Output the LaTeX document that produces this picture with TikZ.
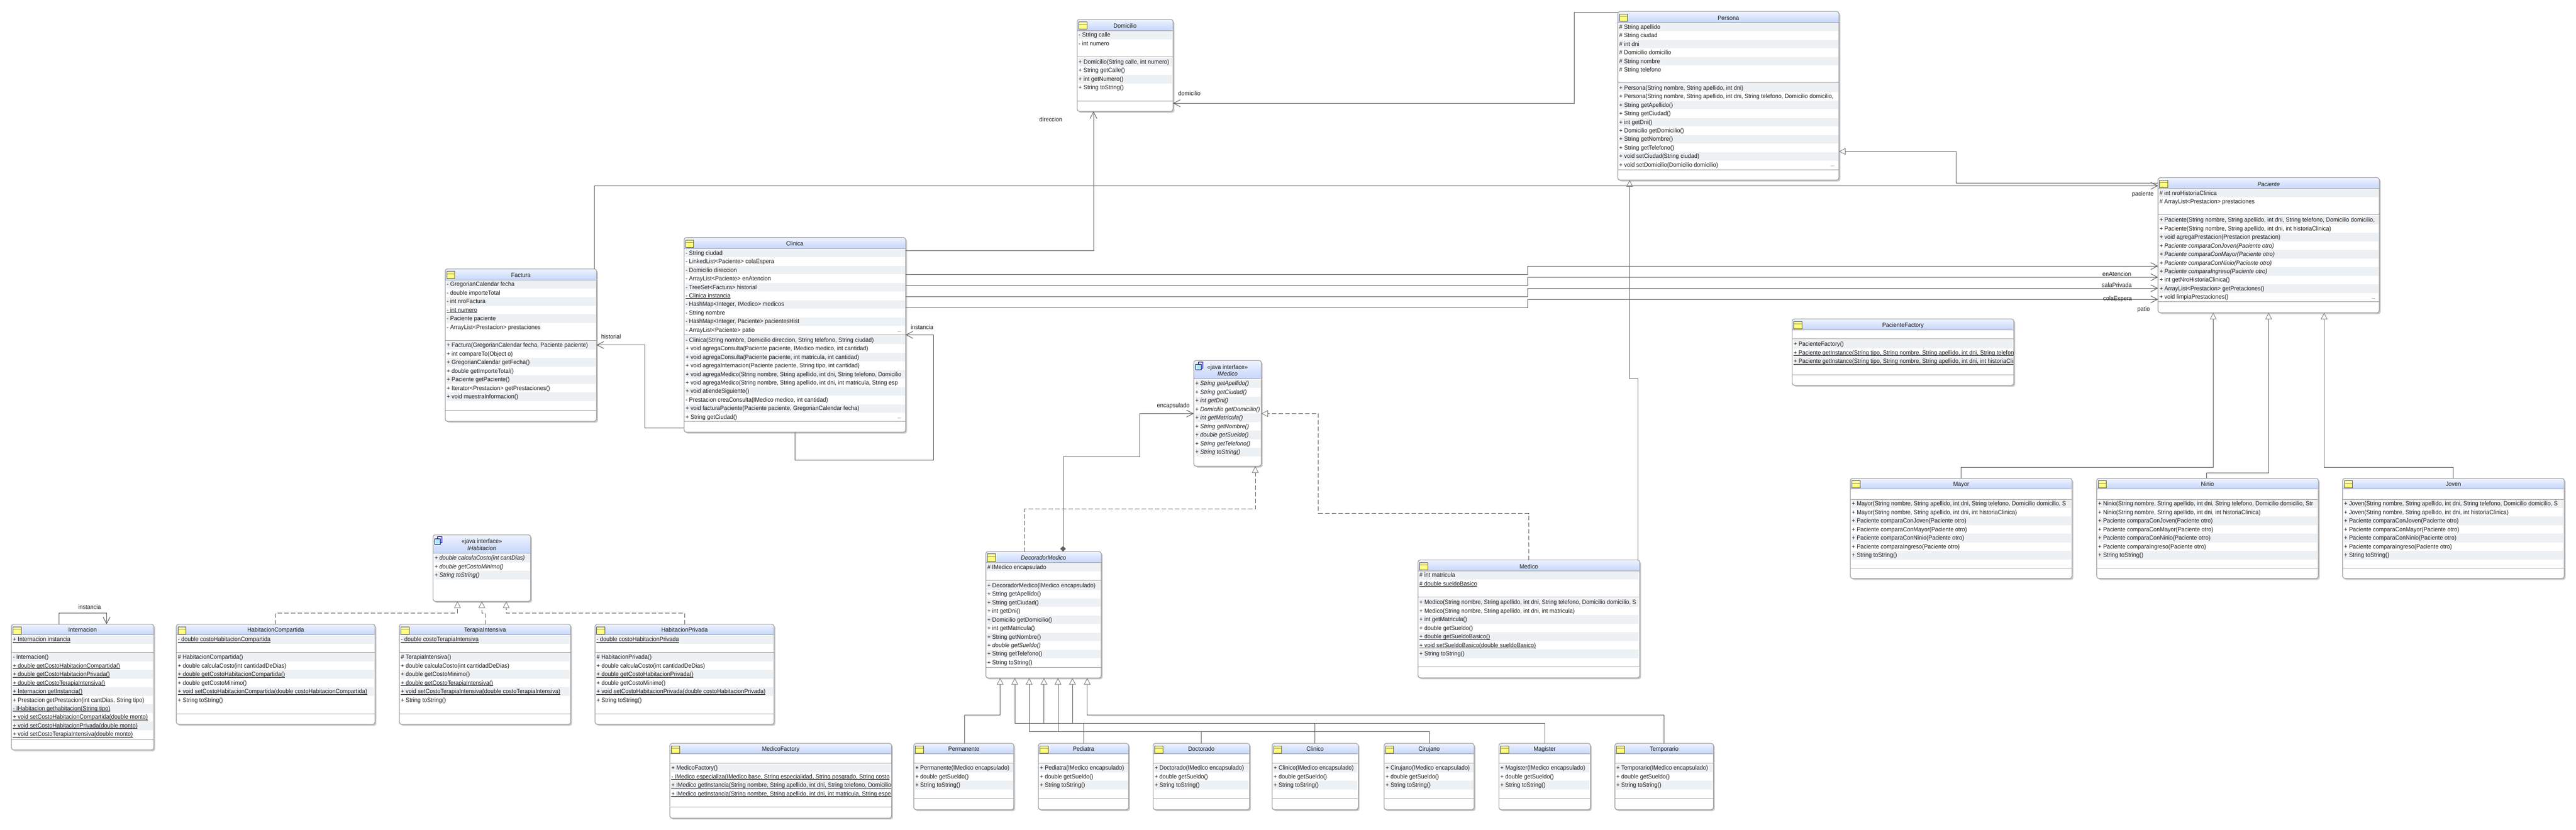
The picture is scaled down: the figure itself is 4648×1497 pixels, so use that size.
\documentclass[tikz,border=0pt]{standalone}
\usepackage{fontspec}
\setmainfont{Liberation Sans}[FakeStretch=0.94]
\usetikzlibrary{arrows.meta,shadows}
\definecolor{hdrtop}{HTML}{EEF3FF}
\definecolor{hdrbot}{HTML}{C6D6FA}
\definecolor{bandc}{HTML}{EEF1F4}
\definecolor{edgec}{HTML}{A0A0A0}
\definecolor{linec}{HTML}{606060}
\definecolor{tipc}{HTML}{808080}
\definecolor{textc}{HTML}{1A1A1A}
\newsavebox\ulbox
\newcommand\ulx[1]{\sbox\ulbox{#1}\usebox\ulbox\llap{\rule[-1.8pt]{\wd\ulbox}{0.9pt}}}
\tikzset{
  classbox/.style={draw=edgec,line width=1pt,fill=white,rounded corners=4pt,inner sep=0pt,outer sep=0pt,
    drop shadow={shadow xshift=2.5pt,shadow yshift=-2.5pt,opacity=.35,fill=black!60}},
  edgeline/.style={draw=edgec,line width=1pt},
  rowtext/.style={anchor=west,inner sep=0pt,text height=8.5pt,text depth=1.5pt,text=textc,font=\fontsize{11}{13}\selectfont},
  titletext/.style={anchor=center,inner sep=0pt,text height=8.5pt,text depth=1.5pt,text=textc,font=\fontsize{11}{13}\selectfont},
  lbl/.style={anchor=center,inner sep=0pt,text height=8.5pt,text depth=1.5pt,text=textc,font=\fontsize{11}{13}\selectfont},
  dots/.style={anchor=center,inner sep=0pt,text=textc,font=\fontsize{8}{9}\selectfont},
  conn/.style={draw=linec,line width=1pt},
  assoc/.style={conn,-{Straight Barb[length=12pt,width=12.5pt,line width=1pt]}},
  gen/.style={conn,-{Triangle[open,length=12pt,width=12pt,line width=.9pt,color=tipc]}},
  real/.style={conn,dash pattern=on 8pt off 4pt,-{Triangle[open,length=12pt,width=12pt,line width=.9pt,color=tipc]}},
  comp/.style={conn,{Diamond[length=10pt,width=10pt,color=linec]}-{Straight Barb[length=12pt,width=12.5pt,line width=1pt]}},
}
\newcommand\umlframe[6]{%
  \def\cname{#1}\def\xa{#2}\def\xb{#3}\def\yt{#4}\def\yh{#5}\def\yb{#6}%
  \pgfmathsetmacro\bw{#3-#2}\pgfmathsetmacro\bh{#6-#4}%
  \pgfmathsetmacro\bcx{(#2+#3)/2}\pgfmathsetmacro\bcy{(#4+#6)/2}%
  \node[classbox,minimum width=\bw pt,minimum height=\bh pt] (#1) at (\bcx,\bcy) {};%
  \shade[top color=hdrtop,bottom color=hdrbot]
    (#2,#5) [rounded corners=4pt] -- (#2,#4) -- (#3,#4) -- (#3,#5) [sharp corners] -- cycle;%
}
\newcommand\classicon{%
  \fill[top color=yellow!35!white,bottom color=yellow!60!white,draw=black!70!yellow,line width=.9pt]
    (\xa+3,\yt+4.3) rectangle (\xa+17.5,\yt+17.5);%
  \draw[color=black!45!yellow,line width=.7pt] (\xa+3.5,\yt+9) -- (\xa+17,\yt+9);%
}
\newcommand\ifaceicon{%
  \fill[fill=blue!10!white,draw=blue!60!black,line width=.8pt] (\xa+8,\yt+3) rectangle (\xa+16,\yt+14);%
  \fill[fill=blue!30!cyan!30!white,draw=blue!60!black,line width=.8pt] (\xa+3,\yt+7) rectangle (\xa+13,\yt+17);%
}
% name x0 x1 top hdr bot title
\newcommand\umlclass[7]{%
  \umlframe{#1}{#2}{#3}{#4}{#5}{#6}\classicon
  \pgfmathsetmacro\tcx{(#2+#3)/2}\pgfmathsetmacro\tcy{#5-8}%
  \node[titletext] (#1-title) at (\tcx,\tcy) {#7};%
}
% name x0 x1 top hdr bot title
\newcommand\umliface[7]{%
  \umlframe{#1}{#2}{#3}{#4}{#5}{#6}\ifaceicon
  \pgfmathsetmacro\tcx{(#2+#3)/2}\pgfmathsetmacro\tcya{#4+12}\pgfmathsetmacro\tcyb{#4+24.7}%
  \node[titletext] (#1-stereo) at (\tcx,\tcya) {«java interface»};%
  \node[titletext] (#1-title) at (\tcx,\tcyb) {\itshape #7};%
}
% prefix firstY pitch list
\newcommand\rows[4]{%
  \begin{scope}
    \clip (\xa+1,\yh) rectangle (\xb-.5,\yb);
    \foreach \rowtxt [count=\ii from 0] in {#4} {
      \pgfmathsetmacro\ry{#2+\ii*#3}
      \pgfmathtruncatemacro\md{mod(\ii,2)}
      \ifnum\md=0 \fill[bandc] (\xa+2.5,\ry-7.75) rectangle (\xb-1.3,\ry+7.75); \fi
      \node[rowtext] (\cname-#1\ii) at (\xa+2.5,\ry) {\rowtxt};
    }
  \end{scope}%
}
% D1 D2
\newcommand\closebox[2]{%
  \draw[edgeline] (\xa,#1) -- (\xb,#1);
  \draw[edgeline] (\xa,#2) -- (\xb,#2);
  \draw[edgeline] (\xa,\yh) -- (\xb,\yh);
  \draw[edgeline,rounded corners=4pt] (\xa,\yt) rectangle (\xb,\yb);%
}
\newcommand\closeiface{%
  \draw[edgeline] (\xa,\yh) -- (\xb,\yh);
  \draw[edgeline,rounded corners=4pt] (\xa,\yt) rectangle (\xb,\yb);%
}
\newcommand\decorator[4]{% name x0 x1 title
  \umlclass{#1}{#2}{#3}{1341.7}{1360.3}{1461.3}{#4}
  \rows{o}{1386.3}{15.45}{{+ #4(IMedico encapsulado)},{+ double getSueldo()},{+ String toString()}}
  \closebox{1377.3}{1441}
}
\newcommand\pacsub[5]{% name x0 x1 title clipped
  \umlclass{#1}{#2}{#3}{863.3}{882.3}{1044}{#4}
  \rows{o}{909.3}{15.45}{{+ #4(String nombre, String apellido, int dni, String telefono, Domicilio domicilio, #5},{+ #4(String nombre, String apellido, int dni, int historiaClinica)},{+ Paciente comparaConJoven(Paciente otro)},{+ Paciente comparaConMayor(Paciente otro)},{+ Paciente comparaConNinio(Paciente otro)},{+ Paciente comparaIngreso(Paciente otro)},{+ String toString()}}
  \closebox{901.3}{1025.3}
}
\begin{document}
\begin{tikzpicture}[x=1pt,y=-1pt]
\fill[white] (0,0) rectangle (4648,1497);
\useasboundingbox (0,0) rectangle (4648,1497);

% ---------- classes ----------
\umlclass{domicilio}{1943.5}{2116.5}{35}{55}{201}{Domicilio}
\rows{a}{63.3}{15.45}{{- String calle},{- int numero}}
\rows{o}{112}{15.45}{{+ Domicilio(String calle, int numero)},{+ String getCalle()},{+ int getNumero()},{+ String toString()}}
\closebox{102}{182}

\umlclass{persona}{2919}{3318}{20.7}{40.7}{325}{Persona}
\rows{a}{48.7}{15.45}{{\# String apellido},{\# String ciudad},{\# int dni},{\# Domicilio domicilio},{\# String nombre},{\# String telefono}}
\rows{o}{158.7}{15.45}{{+ Persona(String nombre, String apellido, int dni)},{+ Persona(String nombre, String apellido, int dni, String telefono, Domicilio domicilio,},{+ String getApellido()},{+ String getCiudad()},{+ int getDni()},{+ Domicilio getDomicilio()},{+ String getNombre()},{+ String getTelefono()},{+ void setCiudad(String ciudad)},{+ void setDomicilio(Domicilio domicilio)}}
\node[dots] (persona-more) at (3307,300) {...};
\closebox{149.3}{306.3}

\umlclass{clinica}{1234.4}{1634}{428.7}{448.3}{780}{Clinica}
\rows{a}{456.7}{15.45}{{- String ciudad},{- LinkedList<Paciente> colaEspera},{- Domicilio direccion},{- ArrayList<Paciente> enAtencion},{- TreeSet<Factura> historial},{\ulx{- Clinica instancia}},{- HashMap<Integer, IMedico> medicos},{- String nombre},{- HashMap<Integer, Paciente> pacientesHist},{- ArrayList<Paciente> patio}}
\rows{o}{613.7}{15.45}{{- Clinica(String nombre, Domicilio direccion, String telefono, String ciudad)},{+ void agregaConsulta(Paciente paciente, IMedico medico, int cantidad)},{+ void agregaConsulta(Paciente paciente, int matricula, int cantidad)},{+ void agregaInternacion(Paciente paciente, String tipo, int cantidad)},{+ void agregaMedico(String nombre, String apellido, int dni, String telefono, Domicilio},{+ void agregaMedico(String nombre, String apellido, int dni, int matricula, String esp},{+ void atiendeSiguiente()},{- Prestacion creaConsulta(IMedico medico, int cantidad)},{+ void facturaPaciente(Paciente paciente, GregorianCalendar fecha)},{+ String getCiudad()}}
\node[dots] (clinica-more1) at (1623,599) {...};
\node[dots] (clinica-more2) at (1623,755) {...};
\closebox{604.3}{760.3}

\umlclass{factura}{803.3}{1076.3}{485.3}{505.3}{760.3}{Factura}
\rows{a}{513.3}{15.45}{{- GregorianCalendar fecha},{- double importeTotal},{- int nroFactura},{\ulx{- int numero}},{- Paciente paciente},{- ArrayList<Prestacion> prestaciones}}
\rows{o}{623.3}{15.45}{{+ Factura(GregorianCalendar fecha, Paciente paciente)},{+ int compareTo(Object o)},{+ GregorianCalendar getFecha()},{+ double getImporteTotal()},{+ Paciente getPaciente()},{+ Iterator<Prestacion> getPrestaciones()},{+ void muestraInformacion()}}
\closebox{614.3}{740.3}

\umliface{imedico}{2154}{2275.8}{650.5}{683.2}{841.3}{IMedico}
\rows{o}{692.4}{15.45}{{\itshape + String getApellido()},{\itshape + String getCiudad()},{\itshape + int getDni()},{\itshape + Domicilio getDomicilio()},{\itshape + int getMatricula()},{\itshape + String getNombre()},{\itshape + double getSueldo()},{\itshape + String getTelefono()},{\itshape + String toString()}}
\closeiface

\umlclass{decorador}{1778.8}{1987}{995.5}{1015.4}{1223.6}{\itshape DecoradorMedico}
\rows{a}{1023.5}{15.45}{{\# IMedico encapsulado}}
\rows{o}{1056.8}{15.45}{{+ DecoradorMedico(IMedico encapsulado)},{+ String getApellido()},{+ String getCiudad()},{+ int getDni()},{+ Domicilio getDomicilio()},{+ int getMatricula()},{+ String getNombre()},{\itshape + double getSueldo()},{+ String getTelefono()},{+ String toString()}}
\closebox{1047.6}{1204.5}

\umlclass{medico}{2558.5}{2958.5}{1010.7}{1030.7}{1223.3}{Medico}
\rows{a}{1038.3}{15.45}{{\# int matricula},{\ulx{\# double sueldoBasico}}}
\rows{o}{1087.3}{15.45}{{+ Medico(String nombre, String apellido, int dni, String telefono, Domicilio domicilio, S},{+ Medico(String nombre, String apellido, int dni, int matricula)},{+ int getMatricula()},{+ double getSueldo()},{\ulx{+ double getSueldoBasico()}},{\ulx{+ void setSueldoBasico(double sueldoBasico)}},{+ String toString()}}
\closebox{1077.3}{1203.3}

\umlclass{paciente}{3893.8}{4293}{320.7}{340.7}{564.3}{\itshape Paciente}
\rows{a}{348.7}{15.45}{{\# int nroHistoriaClinica},{\# ArrayList<Prestacion> prestaciones}}
\rows{o}{397.3}{15.45}{{+ Paciente(String nombre, String apellido, int dni, String telefono, Domicilio domicilio,},{+ Paciente(String nombre, String apellido, int dni, int historiaClinica)},{+ void agregaPrestacion(Prestacion prestacion)},{\itshape + Paciente comparaConJoven(Paciente otro)},{\itshape + Paciente comparaConMayor(Paciente otro)},{\itshape + Paciente comparaConNinio(Paciente otro)},{\itshape + Paciente comparaIngreso(Paciente otro)},{+ int getNroHistoriaClinica()},{+ ArrayList<Prestacion> getPretaciones()},{+ void limpiaPrestaciones()}}
\node[dots] (paciente-more) at (4282.4,539) {...};
\closebox{387.3}{544.3}

\umlclass{pacfactory}{3233.7}{3633.5}{575.7}{595.3}{695.3}{PacienteFactory}
\rows{o}{621.3}{15.45}{{+ PacienteFactory()},{\ulx{+ Paciente getInstance(String tipo, String nombre, String apellido, int dni, String telefono, Domicilio}},{\ulx{+ Paciente getInstance(String tipo, String nombre, String apellido, int dni, int historiaClinica, String}}}
\closebox{611.7}{676.3}

\pacsub{mayor}{3338.7}{3738.5}{Mayor}{S}
\pacsub{ninio}{3783.2}{4183}{Ninio}{Str}
\pacsub{joven}{4226.9}{4626.7}{Joven}{S}

\umlclass{internacion}{20.6}{277.5}{1126.7}{1145.3}{1353.3}{Internacion}
\rows{a}{1154.3}{15.45}{{\ulx{+ Internacion instancia}}}
\rows{o}{1186.3}{15.45}{{- Internacion()},{\ulx{+ double getCostoHabitacionCompartida()}},{\ulx{+ double getCostoHabitacionPrivada()}},{\ulx{+ double getCostoTerapiaIntensiva()}},{\ulx{+ Internacion getInstancia()}},{+ Prestacion getPrestacion(int cantDias, String tipo)},{\ulx{- IHabitacion gethabitacion(String tipo)}},{\ulx{+ void setCostoHabitacionCompartida(double monto)}},{\ulx{+ void setCostoHabitacionPrivada(double monto)}},{\ulx{+ void setCostoTerapiaIntensiva(double monto)}}}
\closebox{1177.3}{1334.3}

\umlclass{compartida}{318.2}{676.6}{1126.7}{1145.3}{1307.3}{HabitacionCompartida}
\rows{a}{1154.3}{15.45}{{\ulx{- double costoHabitacionCompartida}}}
\rows{o}{1186.3}{15.45}{{\# HabitacionCompartida()},{+ double calculaCosto(int cantidadDeDias)},{\ulx{+ double getCostoHabitacionCompartida()}},{+ double getCostoMinimo()},{\ulx{+ void setCostoHabitacionCompartida(double costoHabitacionCompartida)}},{+ String toString()}}
\closebox{1177.3}{1288.3}

\umlclass{terapia}{720.6}{1029.7}{1126.7}{1145.3}{1307.3}{TerapiaIntensiva}
\rows{a}{1154.3}{15.45}{{\ulx{- double costoTerapiaIntensiva}}}
\rows{o}{1186.3}{15.45}{{\# TerapiaIntensiva()},{+ double calculaCosto(int cantidadDeDias)},{+ double getCostoMinimo()},{\ulx{+ double getCostoTerapiaIntensiva()}},{\ulx{+ void setCostoTerapiaIntensiva(double costoTerapiaIntensiva)}},{+ String toString()}}
\closebox{1177.3}{1288.3}

\umlclass{privada}{1073.7}{1396.7}{1126.7}{1145.3}{1307.3}{HabitacionPrivada}
\rows{a}{1154.3}{15.45}{{\ulx{- double costoHabitacionPrivada}}}
\rows{o}{1186.3}{15.45}{{\# HabitacionPrivada()},{+ double calculaCosto(int cantidadDeDias)},{\ulx{+ double getCostoHabitacionPrivada()}},{+ double getCostoMinimo()},{\ulx{+ void setCostoHabitacionPrivada(double costoHabitacionPrivada)}},{+ String toString()}}
\closebox{1177.3}{1288.3}

\umliface{ihabitacion}{781.3}{957.4}{965.3}{998.7}{1085.3}{IHabitacion}
\rows{o}{1007.3}{15.45}{{\itshape + double calculaCosto(int cantDias)},{\itshape + double getCostoMinimo()},{\itshape + String toString()}}
\closeiface

\umlclass{medfactory}{1208.7}{1608.6}{1341.7}{1360.3}{1476.7}{MedicoFactory}
\rows{o}{1386.3}{15.45}{{+ MedicoFactory()},{\ulx{- IMedico especializa(IMedico base, String especialidad, String posgrado, String costo}},{\ulx{+ IMedico getInstancia(String nombre, String apellido, int dni, String telefono, Domicilio}},{\ulx{+ IMedico getInstancia(String nombre, String apellido, int dni, int matricula, String espec}}}
\closebox{1377.3}{1456.3}

\decorator{permanente}{1648.8}{1829.2}{Permanente}
\decorator{pediatra}{1873.7}{2036.3}{Pediatra}
\decorator{doctorado}{2080.6}{2254.6}{Doctorado}
\decorator{clinico}{2295.4}{2450.5}{Clinico}
\decorator{cirujano}{2497.4}{2659.8}{Cirujano}
\decorator{magister}{2704.5}{2869.6}{Magister}
\decorator{temporario}{2913.8}{3091.5}{Temporario}

% ---------- connectors ----------
\draw[assoc] (persona.west |- 0,22.3) -- (2840.8,22.3) |- (domicilio.east |- 0,186.3);
\draw[assoc] (clinica.east |- 0,452.3) -| (domicilio.south -| 1973,0);
\draw[gen] (paciente.west |- 0,330) -- (3529.7,330) |- (persona.east |- 0,273.3);
\draw[assoc] (factura.north -| 1072.7,0) |- (paciente.west |- 0,335.3);
\draw[gen] (medico.north -| 2955.6,0) -- (2955.6,683.4) -| (persona.south -| 2940.4,0);
\draw[assoc] (clinica.east |- 0,495.7) -- (2756.3,495.7) |- (paciente.west |- 0,480.3);
\draw[assoc] (clinica.east |- 0,515.7) -- (2756.3,515.7) |- (paciente.west |- 0,500.3);
\draw[assoc] (clinica.east |- 0,535.7) -- (2756.3,535.7) |- (paciente.west |- 0,520.3);
\draw[assoc] (clinica.east |- 0,555.7) -- (2756.3,555.7) |- (paciente.west |- 0,540.3);
\draw[assoc] (clinica.south -| 1434.3,0) |- (1684.3,830.3) |- (clinica.east |- 0,604.3);
\draw[assoc] (clinica.west |- 0,772.3) -| (1163.7,622.7) -- (factura.east |- 0,622.7);
\draw[comp] (decorador.north -| 1918,0) -- (1918,824.5) -- (2056.7,824.5) |- (imedico.west |- 0,746.4);
\draw[real] (decorador.north -| 1848.4,0) |- (2265,918.6) -- (imedico.south -| 2265,0);
\draw[real] (medico.north -| 2758.4,0) |- (2378.8,926.6) |- (imedico.east |- 0,746.4);
\draw[gen] (mayor.north -| 3538.2,0) |- (3993.4,843.3) -- (paciente.south -| 3993.4,0);
\draw[gen] (ninio.north -| 3981.9,0) |- (4093.4,853.7) -- (paciente.south -| 4093.4,0);
\draw[gen] (joven.north -| 4426.4,0) |- (4193.5,843.3) -- (paciente.south -| 4193.5,0);
\draw[gen] (permanente.north -| 1740,0) |- (1804.6,1290.3) -- (decorador.south -| 1804.6,0);
\draw[gen] (temporario.north -| 3002,0) |- (1961.7,1290.3) -- (decorador.south -| 1961.7,0);
\draw[gen] (magister.north -| 2787.5,0) |- (1831,1305.3) -- (decorador.south -| 1831,0);
\draw[gen] (pediatra.north -| 1955.6,0) |- (1883.7,1305.3) -- (decorador.south -| 1883.7,0);
\draw[gen] (clinico.north -| 2372.4,0) |- (1935,1305.3) -- (decorador.south -| 1935,0);
\draw[gen] (cirujano.north -| 2579.5,0) |- (1857,1320.3) -- (decorador.south -| 1857,0);
\draw[gen] (doctorado.north -| 2167.3,0) |- (1909,1320.3) -- (decorador.south -| 1909,0);
\draw[real] (compartida.north -| 497.6,0) |- (825.4,1106.3) -- (ihabitacion.south -| 825.4,0);
\draw[real] (terapia.north -| 875.6,0) |- (869.4,1106.3) -- (ihabitacion.south -| 869.4,0);
\draw[real] (privada.north -| 1235.9,0) |- (913.4,1106.3) -- (ihabitacion.south -| 913.4,0);
\draw[assoc] (internacion.north -| 106.7,0) |- (192.3,1106.3) -- (internacion.north -| 192.3,0);

% ---------- connector labels ----------
\node[lbl] (lab-domicilio) at (2146,168.7) {domicilio};
\node[lbl] (lab-direccion) at (1896,215.7) {direccion};
\node[lbl] (lab-paciente) at (3866.4,349.7) {paciente};
\node[lbl] (lab-enatencion) at (3819.4,494.7) {enAtencion};
\node[lbl] (lab-salaprivada) at (3819.4,514.7) {salaPrivada};
\node[lbl] (lab-colaespera) at (3820.8,538.7) {colaEspera};
\node[lbl] (lab-patio) at (3867.8,557.7) {patio};
\node[lbl] (lab-clinst) at (1663.7,590.7) {instancia};
\node[lbl] (lab-historial) at (1102.7,608.3) {historial};
\node[lbl] (lab-encaps) at (2117,732.2) {encapsulado};
\node[lbl] (lab-intinst) at (161.7,1096.3) {instancia};
\end{tikzpicture}
\end{document}
